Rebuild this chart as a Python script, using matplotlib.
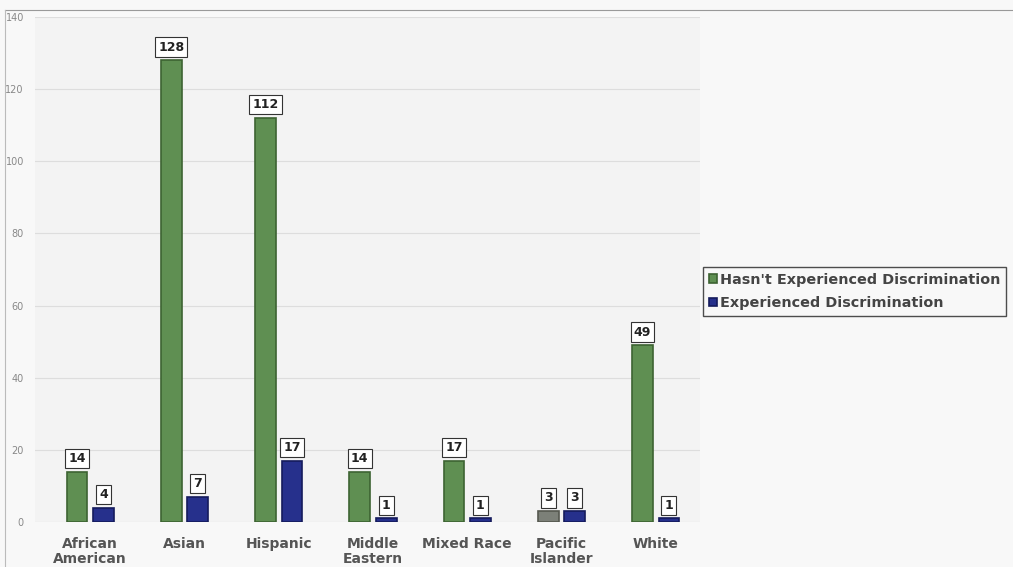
import matplotlib.pyplot as plt
import numpy as np

categories = ["African\nAmerican", "Asian", "Hispanic", "Middle\nEastern",
              "Mixed Race", "Pacific\nIslander", "White"]
not_experienced = [14, 128, 112, 14, 17, 3, 49]
experienced = [4, 7, 17, 1, 1, 3, 1]
yticks = [0, 20, 40, 60, 80, 100, 120, 140]

green = "#5f8f52"
blue = "#26308c"

fig = plt.figure(figsize=(10.13, 5.67), dpi=100, facecolor="#f8f8f8")
ax = fig.add_axes([35 / 1013, 45 / 567, 665 / 1013, 505 / 567])
ax.set_facecolor("#f3f3f3")

x = np.arange(len(categories))
w = 0.22
off = 0.14
b1 = ax.bar(x - off, not_experienced, w, color=green, edgecolor="#3d6332",
            linewidth=1.2, label="Hasn't Experienced Discrimination", zorder=3)
b2 = ax.bar(x + off, experienced, w, color=blue, edgecolor="#151b5c",
            linewidth=1.2, label="Experienced Discrimination", zorder=3)
# the small green bar for Pacific Islander looks greyish in the original
b1[5].set_facecolor("#7c8078")
b1[5].set_edgecolor("#55584f")

for bars, vals in ((b1, not_experienced), (b2, experienced)):
    for bar, v in zip(bars, vals):
        ax.annotate(str(v), (bar.get_x() + bar.get_width() / 2, v),
                    xytext=(0, 9.5), textcoords="offset points",
                    ha="center", va="center", fontsize=9, fontweight="bold",
                    color="#222222", zorder=5,
                    bbox=dict(boxstyle="square,pad=0.25", fc="white",
                              ec="#333333", lw=0.8))

ax.set_xlim(-0.586, 6.47)
ax.set_ylim(0, 140)
ax.set_yticks(yticks)
ax.set_xticks(x)
ax.set_xticklabels(categories, fontsize=10, fontweight="bold", color="#555555",
                   linespacing=1.05)
ax.tick_params(axis="y", labelsize=7, colors="#888888", length=0, pad=8)
ax.tick_params(axis="x", length=0, pad=11)
ax.grid(axis="y", color="#dddddd", linewidth=0.8, zorder=0)
for s in ["left", "right", "bottom", "top"]:
    ax.spines[s].set_visible(False)

# outer frame lines (top and left)
fig.add_artist(plt.Line2D([5 / 1013, 1], [1 - 10 / 567, 1 - 10 / 567],
                          color="#999999", lw=0.8))
fig.add_artist(plt.Line2D([5 / 1013, 5 / 1013], [0, 1 - 10 / 567],
                          color="#bbbbbb", lw=0.8))

leg = fig.legend(loc="upper left", bbox_to_anchor=(703 / 1013, 1 - 267 / 567),
                 fontsize=10.4, frameon=True, fancybox=False, handlelength=0.55,
                 handleheight=0.55, handletextpad=0.25, borderpad=0.4,
                 labelspacing=0.65, borderaxespad=0)
leg.get_frame().set_edgecolor("#222222")
leg.get_frame().set_linewidth(1.0)
leg.get_frame().set_facecolor("#f8f8f8")
for t in leg.get_texts():
    t.set_fontweight("bold")
    t.set_color("#444444")

fig.savefig("out.png", dpi=100, facecolor=fig.get_facecolor())
